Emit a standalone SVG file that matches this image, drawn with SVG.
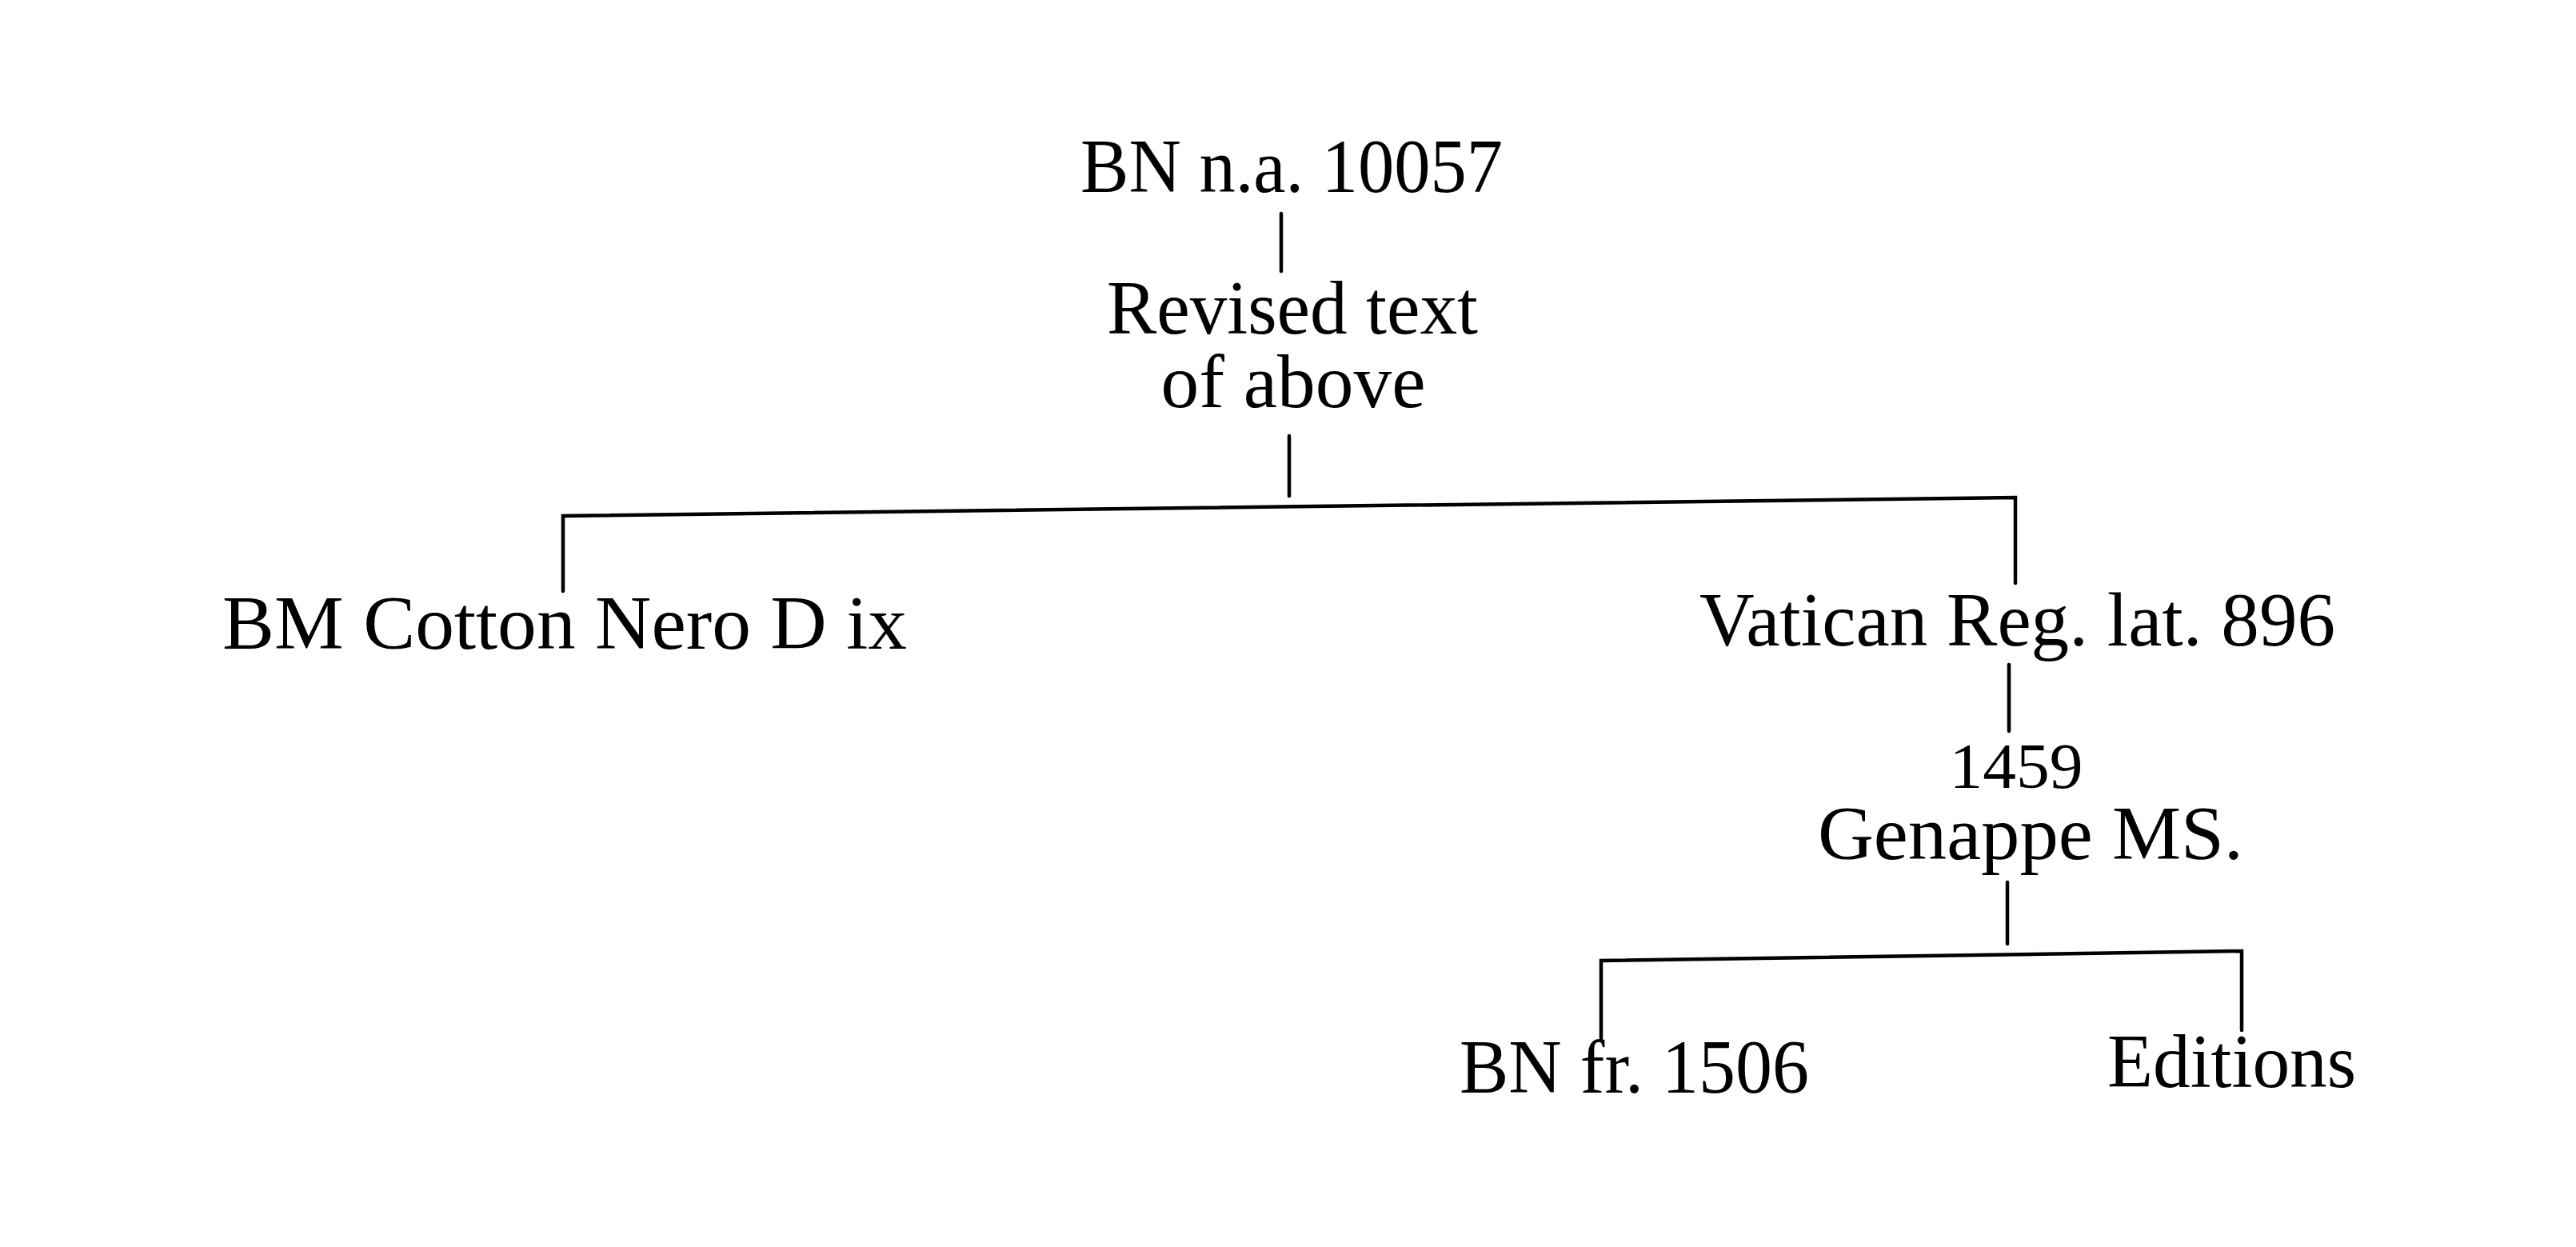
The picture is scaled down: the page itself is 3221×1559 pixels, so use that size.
<svg xmlns="http://www.w3.org/2000/svg" width="3221" height="1559" viewBox="0 0 3221 1559">
<style>
.t{font-family:"Liberation Serif","Times New Roman",serif;font-size:96px;fill:#000}
.c{text-anchor:middle}
.sm{font-size:80px}
.ln{stroke:#000;stroke-width:4.5;fill:none;stroke-linecap:round;stroke-linejoin:miter}
</style>
<rect width="3221" height="1559" fill="#fff"/>
<g id="connectors">
<path class="ln" d="M1602 267 L1602 339"/>
<path class="ln" d="M1612 545 L1612 620"/>
<path class="ln" d="M704 739 L704 645 L2520 622 L2520 729"/>
<path class="ln" d="M2512 831 L2512 914"/>
<path class="ln" d="M2510 1103 L2510 1180"/>
<path class="ln" d="M2002 1298 L2002 1201 L2803 1189 L2803 1288"/>
</g>
<g id="n-bn-na"><text class="t c" x="1615" y="240" textLength="528" lengthAdjust="spacingAndGlyphs">BN n.a. 10057</text></g>
<g id="n-revised"><text class="t c" x="1616" y="417" textLength="464" lengthAdjust="spacingAndGlyphs">Revised text</text><text class="t c" x="1617" y="509" textLength="331" lengthAdjust="spacingAndGlyphs">of above</text></g>
<g id="n-bm-cotton"><text class="t" x="278" y="811" textLength="856" lengthAdjust="spacingAndGlyphs">BM Cotton Nero D ix</text></g>
<g id="n-vatican"><text class="t" x="2125" y="807" textLength="795" lengthAdjust="spacingAndGlyphs">Vatican Reg. lat. 896</text></g>
<g id="n-genappe"><text class="t c sm" x="2521" y="985" textLength="167" lengthAdjust="spacingAndGlyphs">1459</text><text class="t c" x="2539" y="1074" textLength="532" lengthAdjust="spacingAndGlyphs">Genappe MS.</text></g>
<g id="n-bn-fr"><text class="t" x="1825" y="1366" textLength="437" lengthAdjust="spacingAndGlyphs">BN fr. 1506</text></g>
<g id="n-editions"><text class="t" x="2635" y="1359" textLength="311" lengthAdjust="spacingAndGlyphs">Editions</text></g>
</svg>
